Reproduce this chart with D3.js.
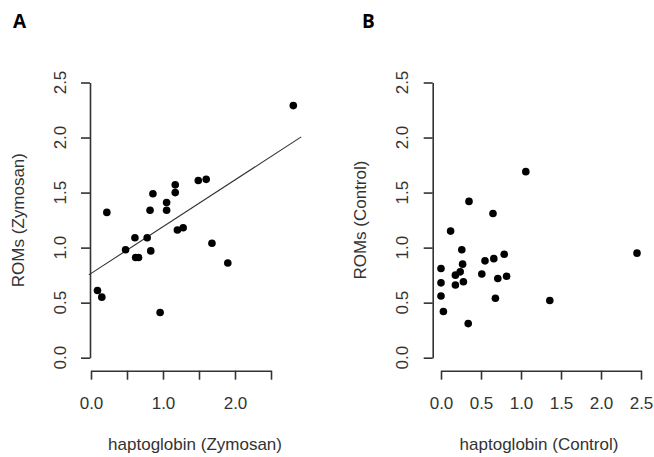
<!DOCTYPE html>
<html>
<head>
<meta charset="utf-8">
<script src="https://cdn.jsdelivr.net/npm/d3@7"></script>
<style>
  html, body { margin: 0; padding: 0; background: #fff; }
  svg { display: block; }
  text { font-family: "Liberation Sans", Arial, sans-serif; fill: #333; }
</style>
</head>
<body>
<svg id="chart" width="654" height="457"></svg>
<script>
// ---- Data ----
const hpZymosan   = [2.81, 0.22, 0.86, 0.82, 1.05, 1.05, 1.17, 1.17, 1.49, 1.60, 1.20, 1.28,
                     0.48, 0.61, 0.78, 0.62, 0.66, 0.83, 1.68, 1.90, 0.09, 0.15, 0.96];
const romsZymosan = [2.29, 1.32, 1.49, 1.34, 1.41, 1.34, 1.57, 1.50, 1.61, 1.62, 1.16, 1.18,
                     0.98, 1.09, 1.09, 0.91, 0.91, 0.97, 1.04, 0.86, 0.61, 0.55, 0.41];
const fitZymosan  = { intercept: 0.765, slope: 0.425 };

const hpControl   = [1.06, 0.35, 0.65, 0.12, 2.45, 0.26, 0.00, 0.00, 0.00, 0.03, 0.18, 0.24,
                     0.27, 0.18, 0.28, 0.34, 0.51, 0.55, 0.66, 0.79, 0.71, 0.82, 0.68, 1.36];
const romsControl = [1.69, 1.42, 1.31, 1.15, 0.95, 0.98, 0.81, 0.68, 0.56, 0.42, 0.75, 0.78,
                     0.85, 0.66, 0.69, 0.31, 0.76, 0.88, 0.90, 0.94, 0.72, 0.74, 0.54, 0.52];

const yTicks = [0, 0.5, 1.0, 1.5, 2.0, 2.5];
const xTicksA = [0, 0.5, 1.0, 1.5, 2.0, 2.5];
const xTickLabelsA = ["0.0", "", "1.0", "", "2.0", ""];
const xTicksB = [0, 0.5, 1.0, 1.5, 2.0, 2.5];
const xTickLabelsB = ["0.0", "0.5", "1.0", "1.5", "2.0", "2.5"];

const panels = [
  { letter: "A", letterX: 13, xs: hpZymosan, ys: romsZymosan, fit: fitZymosan,
    xRange: [91, 271], xRegion: [-0.03, 2.92], axisX: 90,
    xTicks: xTicksA, xLabels: xTickLabelsA,
    yTitle: "ROMs (Zymosan)", xTitle: "haptoglobin (Zymosan)", yTitleX: 24, yLabelX: 66 },
  { letter: "B", letterX: 362, xs: hpControl, ys: romsControl, fit: null,
    xRange: [441, 641], xRegion: [-0.1, 2.55], axisX: 432.7,
    xTicks: xTicksB, xLabels: xTickLabelsB,
    yTitle: "ROMs (Control)", xTitle: "haptoglobin (Control)", yTitleX: 366, yLabelX: 408 }
];

const svg = d3.select("#chart");
const y = d3.scaleLinear().domain([0, 2.5]).range([357.7, 82.5]);
const axisY = 370.7;
const tickLen = 9;

panels.forEach(p => {
  const x = d3.scaleLinear().domain([0, 2.5]).range(p.xRange);
  const g = svg.append("g");

  // panel letter
  g.append("text").attr("x", p.letterX).attr("y", 28)
    .style("font-family", "'Open Sans', 'Liberation Sans', sans-serif")
    .style("font-weight", "bold").style("font-size", "19px").style("fill", "#000")
    .text(p.letter);

  // x axis
  const xAxis = d3.axisBottom(x).tickValues(p.xTicks).tickSizeInner(tickLen).tickSizeOuter(0)
    .tickFormat((d, i) => p.xLabels[i]);
  const gx = g.append("g").attr("transform", `translate(0,${axisY})`).call(xAxis);
  gx.select(".domain").attr("stroke", "#333").attr("stroke-width", 1.6);
  gx.selectAll(".tick line").attr("stroke", "#333").attr("stroke-width", 1.6);
  gx.selectAll(".tick text").attr("y", 38.3).attr("dy", null)
    .style("font-size", "17px").style("font-family", "'Liberation Sans', Arial, sans-serif")
    .attr("fill", "#333");

  // y axis
  const yAxis = d3.axisLeft(y).tickValues(yTicks).tickSizeInner(tickLen).tickSizeOuter(0)
    .tickFormat(() => "");
  const gy = g.append("g").attr("transform", `translate(${p.axisX},0)`).call(yAxis);
  gy.select(".domain").attr("stroke", "#333").attr("stroke-width", 1.6);
  gy.selectAll(".tick line").attr("stroke", "#333").attr("stroke-width", 1.6);
  g.selectAll(".ylab").data(yTicks).enter().append("text")
    .attr("transform", d => `translate(${p.yLabelX},${y(d)}) rotate(-90)`)
    .attr("text-anchor", "middle").style("font-size", "17px")
    .text(d => d3.format(".1f")(d));

  // titles
  const cx = (x(p.xRegion[0]) + x(p.xRegion[1])) / 2;
  g.append("text").attr("x", cx).attr("y", 450).attr("text-anchor", "middle")
    .style("font-size", "17px").text(p.xTitle);
  g.append("text").attr("transform", `translate(${p.yTitleX},${y(1.25)}) rotate(-90)`)
    .attr("text-anchor", "middle").style("font-size", "17px").text(p.yTitle);

  // regression line
  if (p.fit) {
    const x0 = p.xRegion[0], x1 = p.xRegion[1];
    g.append("line")
      .attr("x1", x(x0)).attr("y1", y(p.fit.intercept + p.fit.slope * x0))
      .attr("x2", x(x1)).attr("y2", y(p.fit.intercept + p.fit.slope * x1))
      .attr("stroke", "#333").attr("stroke-width", 1.1);
  }

  // points
  g.selectAll(".pt").data(p.xs.map((v, i) => [v, p.ys[i]])).enter().append("circle")
    .attr("cx", d => x(d[0])).attr("cy", d => y(d[1])).attr("r", 3.8).attr("fill", "#000");
});
</script>
</body>
</html>
